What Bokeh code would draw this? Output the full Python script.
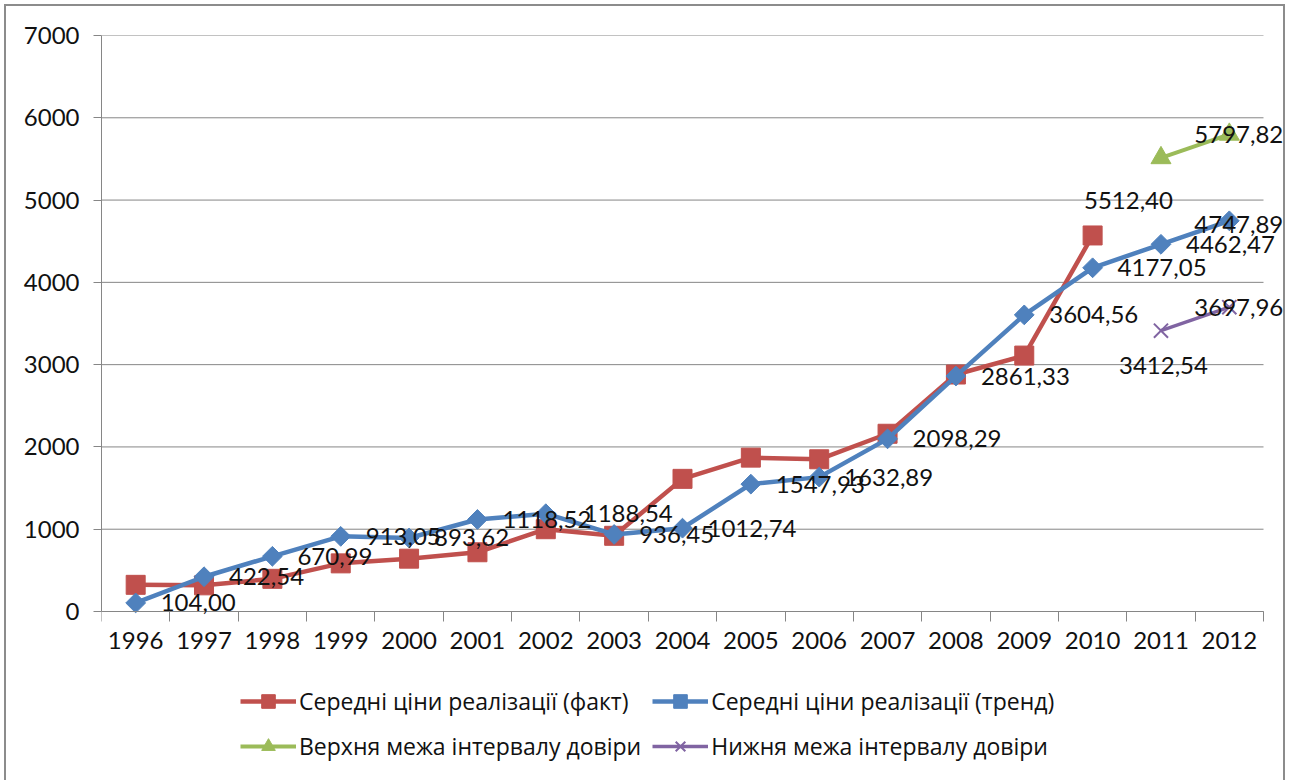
import math
from bokeh.plotting import figure
from bokeh.models import (Range1d, FixedTicker, Legend, LegendItem, LabelSet,
                          ColumnDataSource)
from bokeh.core.properties import value
from bokeh.embed import file_html
from bokeh.resources import INLINE

# ---------------- data ----------------
years = ["1996", "1997", "1998", "1999", "2000", "2001", "2002", "2003", "2004",
         "2005", "2006", "2007", "2008", "2009", "2010", "2011", "2012"]
fact_years = years[:15]
fact = [324, 318, 397, 585, 642, 720, 1000, 920, 1612, 1870, 1850, 2160, 2880, 3110, 4570]
trend = [104.00, 422.54, 670.99, 913.05, 893.62, 1118.52, 1188.54, 936.45, 1012.74,
         1547.93, 1632.89, 2098.29, 2861.33, 3604.56, 4177.05, 4462.47, 4747.89]
ci_years = ["2011", "2012"]
upper = [5512.40, 5797.82]
lower = [3412.54, 3697.96]
y_ticks = [0, 1000, 2000, 3000, 4000, 5000, 6000, 7000]

names = ["Середні ціни реалізації (факт)", "Середні ціни реалізації (тренд)",
         "Верхня межа інтервалу довіри", "Нижня межа інтервалу довіри"]

# label offsets in screen pixels, right / down positive (style, not data)
trend_dx = [25] * 17
trend_dy = [0] * 17
trend_dx[6] = 38
trend_dx[16] = -35
trend_dy[16] = 4
upper_dx = [-77, -35]
upper_dy = [43, 0]
lower_dx = [-42, -35]
lower_dy = [35, 0]

RED = "#C0504D"
BLUE = "#4F81BD"
GREEN = "#9BBB59"
PURPLE = "#8064A2"
GRID = "#868686"
FONT = "Lato"

# layout in pixels
W, H = 1281, 776
FRAME_L, FRAME_T = 95, 29          # frame offsets inside the canvas
PLOT_W, PLOT_H = 1162, 576         # width of the 17 categories / height of 0..7000
Y_MAX = 7000
px_per_x = PLOT_W / len(years)
px_per_y = PLOT_H / Y_MAX
x_end = len(years) + (W - FRAME_L - PLOT_W) / px_per_x
y_start = -(H - FRAME_T - PLOT_H) / px_per_y


def xpos(labels):
    return [years.index(y) + 0.5 for y in labels]


def fmt(v):
    return f"{v:.2f}".replace(".", ",")


p = figure(width=W, height=H, x_range=Range1d(0, x_end), y_range=Range1d(y_start, Y_MAX),
           output_backend="svg", toolbar_location=None,
           min_border_left=FRAME_L, min_border_right=0, min_border_top=FRAME_T,
           min_border_bottom=0)
p.styles = {"border-left": "2px solid #8c8c8c", "border-top": "2px solid #8c8c8c",
            "border-right": "2px solid #8c8c8c", "margin": "4px 0 0 4px"}
p.outline_line_color = None
p.background_fill_color = "white"
p.border_fill_color = "white"

# y axis
p.yaxis.ticker = FixedTicker(ticks=y_ticks)
p.yaxis.bounds = (0, Y_MAX)
p.yaxis.axis_line_color = GRID
p.yaxis.major_tick_line_color = GRID
p.yaxis.major_tick_out = 8
p.yaxis.major_tick_in = 0
p.yaxis.minor_tick_line_color = None
p.yaxis.major_label_standoff = 14
p.yaxis.major_label_text_font = FONT
p.yaxis.major_label_text_font_size = "24px"
p.yaxis.major_label_text_color = "#111111"

# x axis at y=0: labels at category centres, ticks at category boundaries
centres = [i + 0.5 for i in range(len(years))]
p.xaxis.fixed_location = 0
p.xaxis.bounds = (0, len(years))
p.xaxis.ticker = FixedTicker(ticks=centres, minor_ticks=list(range(len(years) + 1)))
p.xaxis.major_label_overrides = {c: y for c, y in zip(centres, years)}
p.xaxis.axis_line_color = GRID
p.xaxis.major_tick_line_color = None
p.xaxis.major_tick_out = 10
p.xaxis.major_tick_in = 0
p.xaxis.minor_tick_line_color = GRID
p.xaxis.minor_tick_out = 10
p.xaxis.minor_tick_in = 0
p.xaxis.major_label_standoff = 10
p.xaxis.major_label_text_font = FONT
p.xaxis.major_label_text_font_size = "24px"
p.xaxis.major_label_text_color = "#111111"

# horizontal grid lines only across the categories
p.xgrid.grid_line_color = None
p.ygrid.grid_line_color = None
p.segment(x0=[0] * len(y_ticks), x1=[len(years)] * len(y_ticks), y0=y_ticks, y1=y_ticks,
          line_color=GRID, line_width=1, level="underlay")

# series
fx = xpos(fact_years)
tx = xpos(years)
cx = xpos(ci_years)

r_fact_l = p.line(fx, fact, line_color=RED, line_width=4.5)
r_fact_m = p.scatter(fx, fact, marker="square", size=19, fill_color=RED, line_color=RED)
r_tr_l = p.line(tx, trend, line_color=BLUE, line_width=4.5)
r_tr_m = p.scatter(tx, trend, marker="square", angle=math.pi / 4, size=14,
                   fill_color=BLUE, line_color=BLUE)
r_up_l = p.line(cx, upper, line_color=GREEN, line_width=4)
r_up_m = p.scatter(cx, upper, marker="triangle", size=20, fill_color=GREEN, line_color=GREEN)
r_lo_l = p.line(cx, lower, line_color=PURPLE, line_width=3.5)
r_lo_m = p.scatter(cx, lower, marker="x", size=20, line_color=PURPLE, line_width=2)

# data labels
lab_src = ColumnDataSource(dict(
    x=tx + cx + cx,
    y=trend + upper + lower,
    text=[fmt(v) for v in trend + upper + lower],
    dx=trend_dx + upper_dx + lower_dx,
    dy=[-d for d in trend_dy + upper_dy + lower_dy],
))
labels = LabelSet(x="x", y="y", text="text", source=lab_src, x_offset="dx", y_offset="dy",
                  text_align="left", text_baseline="middle", text_font=value(FONT),
                  text_font_size=value("24px"), text_color="#111111")
p.add_layout(labels)

legend = Legend(items=[
    LegendItem(label=names[0], renderers=[r_fact_l, r_fact_m]),
    LegendItem(label=names[1], renderers=[r_tr_l, r_tr_m]),
    LegendItem(label=names[2], renderers=[r_up_l, r_up_m]),
    LegendItem(label=names[3], renderers=[r_lo_l, r_lo_m]),
], orientation="horizontal", nrows=2, location=(139, 19))
legend.border_line_color = None
legend.background_fill_alpha = 0
legend.label_text_font = "Open Sans"
legend.label_text_font_size = "23px"
legend.label_text_color = "#111111"
legend.glyph_width = 56
legend.glyph_height = 34
legend.label_height = 24
legend.label_standoff = 3
legend.spacing = 11
legend.padding = 0
legend.margin = 0
p.add_layout(legend)

open("out.html", "w").write(file_html(p, INLINE))
